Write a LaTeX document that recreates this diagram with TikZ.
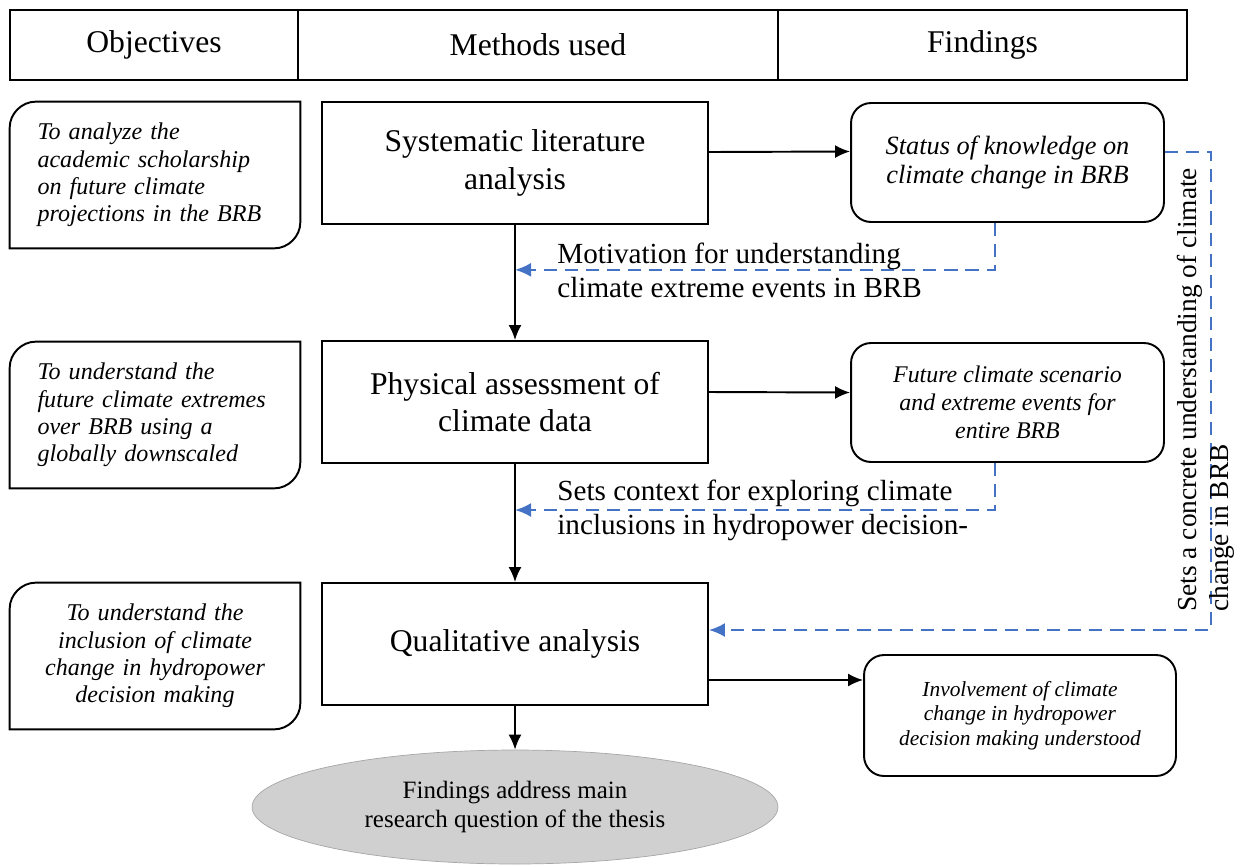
\documentclass[tikz,border=0pt]{standalone}
\usepackage{fontspec}
\setmainfont{Liberation Serif}
\usepackage{tikz}
\usetikzlibrary{shapes,arrows.meta,positioning,calc}
\definecolor{thLink}{HTML}{4472C4}
\definecolor{thOval}{HTML}{D0D0D0}
\definecolor{thOvalLine}{HTML}{A6A6A6}
% frame with two rounded corners (top left, bottom right)
\newcommand{\objframe}[1]{%
  \draw[line width=1.1pt] (#1.south west) -- ($(#1.north west)+(0,26)$)
    .. controls ($(#1.north west)+(0,12)$) and ($(#1.north west)+(12,0)$) .. ($(#1.north west)+(26,0)$)
    -- (#1.north east) -- ($(#1.south east)+(0,-26)$)
    .. controls ($(#1.south east)+(0,-12)$) and ($(#1.south east)+(-12,0)$) .. ($(#1.south east)+(-26,0)$)
    -- cycle;}
\tikzset{
    thBoxBase/.style={
        rectangle,
        draw,
        line width=1.1pt,
        align=center,
        inner sep=4pt
    },
    % Columns
    header/.style={thBoxBase, minimum height=1.4cm, font=\fontsize{18}{21}\selectfont},
    method/.style={thBoxBase, minimum width=7.72cm, minimum height=2.44cm, font=\fontsize{18}{21.5}\selectfont},
    objective/.style={align=left, text width=4.7cm, inner xsep=0.55cm, minimum height=2.92cm, font=\fontsize{13.7}{15.5}\selectfont\itshape},
    finding/.style={thBoxBase, rounded corners=0.4cm, minimum width=6.26cm, minimum height=2.38cm, font=\fontsize{15}{16}\selectfont\itshape},
    outcome/.style={ellipse, draw=thOvalLine, fill=thOval, minimum width=10.52cm, minimum height=2.28cm, align=center, font=\fontsize{14.2}{16.5}\selectfont},
    % Arrows
    thArrow/.style={-{Latex[length=0.3cm,width=0.26cm]}, line width=1.1pt},
    thLinkArrow/.style={-{Latex[length=0.32cm,width=0.28cm]}, draw=thLink, line width=1.2pt, dash pattern=on 7.5pt off 4.5pt},
    linkLabel/.style={anchor=west, align=left, inner sep=0pt, font=\fontsize{16.6}{19.4}\selectfont}
}
\begin{document}
\begin{tikzpicture}[x=0.02cm, y=-0.02cm]
\useasboundingbox (0,0) rectangle (1247,866);

% Header row
\node[header, minimum width=5.76cm] (hObj) at (154,45) {Objectives};
\node[header, minimum width=9.6cm] (hMet) at (538,45) {Methods used};
\node[header, minimum width=8.18cm] (hFin) at (982.5,45) {Findings};

% Objectives
\node[objective] (o1) at (155,175) {To analyze the\\academic scholarship\\on future climate\\projections in the BRB};
\node[objective] (o2) at (155,415) {To understand the\\future climate extremes\\over BRB using a\\globally downscaled};
\node[objective, align=center] (o3) at (155,656) {To understand the\\inclusion of climate\\change in hydropower\\decision making};
\objframe{o1}
\objframe{o2}
\objframe{o3}

% Methods
\node[method] (m1) at (515,163) {Systematic literature\\analysis};
\node[method] (m2) at (515,402) {Physical assessment of\\climate data};
\node[method] (m3) at (515,644) {Qualitative analysis};
\node[outcome] (goal) at (515,807) {Findings address main\\research question of the thesis};

% Findings
\node[finding] (f1) at (1007.5,162.5) {Status of knowledge on\\climate change in BRB};
\node[finding, font=\fontsize{13.6}{16}\selectfont\itshape] (f2) at (1007.5,402.5) {Future climate scenario\\and extreme events for\\entire BRB};
\node[finding, minimum width=6.24cm, minimum height=2.42cm, font=\fontsize{12.2}{14}\selectfont\itshape] (f3) at (1020,715.5) {Involvement of climate\\change in hydropower\\decision making understood};

% Main flow
\draw[thArrow] (m1.south) -- (m2.north);
\draw[thArrow] (m2.south) -- (m3.north);
\draw[thArrow] (m3.south) -- (goal.north);
\draw[thArrow] ([yshift=0.22cm]m1.east) -- ([yshift=0.22cm]f1.west);
\draw[thArrow] ([yshift=0.2cm]m2.east) -- ([yshift=0.2cm]f2.west);
\draw[thArrow] ([yshift=-0.72cm]m3.east) -- ([yshift=0.71cm]f3.west);

% Feedback links
\coordinate (c1) at ($(m1.south)!0.39!(m2.north)$);
\coordinate (c2) at ($(m2.south)!0.39!(m3.north)$);
\draw[thLinkArrow] ([xshift=-0.25cm]f1.south) |- (c1);
\draw[thLinkArrow] ([xshift=-0.25cm]f2.south) |- (c2);
\draw[thLinkArrow] ([yshift=0.21cm]f1.east) -- ++(46,0) |- ([yshift=0.28cm]m3.east);

\node[linkLabel] (lbl1) at (557,270) {Motivation for understanding\\climate extreme events in BRB};
\node[linkLabel] (lbl2) at (557,510) {Sets context for exploring climate\\inclusions in hydropower decision-};
\node[linkLabel, rotate=90, font=\fontsize{15.6}{18}\selectfont] (lbl3) at (1206,612) {Sets a concrete understanding of climate\\change in BRB};
\end{tikzpicture}
\end{document}
